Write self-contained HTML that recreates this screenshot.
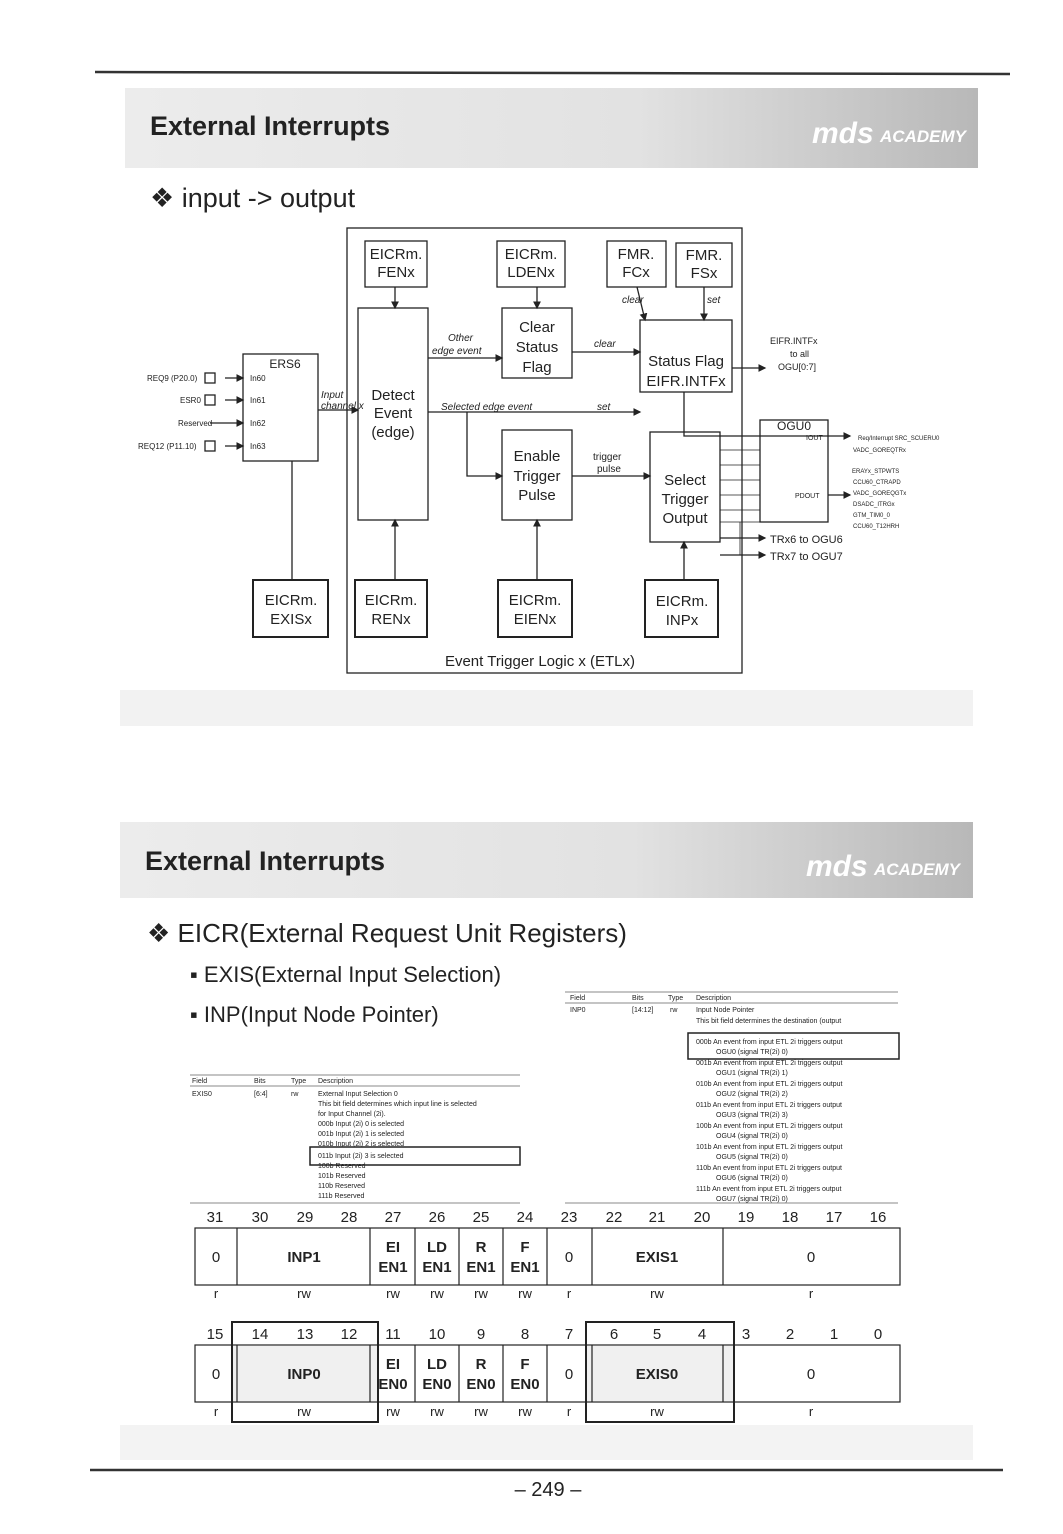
<!DOCTYPE html>
<html><head><meta charset="utf-8"><style>
html,body{margin:0;padding:0;background:#fff}
svg{display:block}
text{font-family:"Liberation Sans",sans-serif;fill:#222}
.w{fill:#fff}
</style></head><body>
<svg width="1063" height="1534" viewBox="0 0 1063 1534" xmlns="http://www.w3.org/2000/svg">
<defs>
<linearGradient id="hg" x1="0" x2="1" y1="0" y2="0">
<stop offset="0" stop-color="#ececec"/><stop offset="0.6" stop-color="#e2e2e2"/><stop offset="1" stop-color="#b8b8b8"/>
</linearGradient>
<marker id="ar" markerWidth="6" markerHeight="6" refX="5" refY="3" orient="auto"><path d="M0,0L6,3L0,6z" fill="#222"/></marker>
</defs>
<line x1="95" y1="72" x2="1010" y2="74" stroke="#333" stroke-width="2.5"/>
<rect x="125" y="88" width="853" height="80" fill="url(#hg)"/>
<text x="150" y="135" font-size="27" font-weight="bold" fill="#1a1a1a">External Interrupts</text>
<text x="812" y="143" font-size="30" font-weight="bold" font-style="italic" class="w">mds</text>
<text x="880" y="142" font-size="17" font-weight="bold" font-style="italic" class="w">ACADEMY</text>
<text x="150" y="207" font-size="27" fill="#1a1a1a">❖ input -&gt; output</text>

<g stroke="#222" fill="none" stroke-width="1.3">
<rect x="347" y="228" width="395" height="445"/>
<rect x="365" y="241" width="62" height="46"/>
<rect x="497" y="241" width="68" height="46"/>
<rect x="607" y="241" width="59" height="46"/>
<rect x="676" y="243" width="56" height="44"/>
<rect x="358" y="308" width="70" height="212"/>
<rect x="502" y="308" width="70" height="70"/>
<rect x="640" y="320" width="92" height="72"/>
<rect x="502" y="430" width="70" height="90"/>
<rect x="650" y="432" width="70" height="110"/>
<rect x="760" y="420" width="68" height="102"/>
<rect x="243" y="354" width="75" height="107"/>
<rect x="253" y="580" width="75" height="57" stroke-width="2"/>
<rect x="355" y="580" width="72" height="57" stroke-width="2"/>
<rect x="498" y="580" width="74" height="57" stroke-width="2"/>
<rect x="645" y="580" width="73" height="57" stroke-width="2"/>
<line x1="395" y1="287" x2="395" y2="308" marker-end="url(#ar)"/>
<line x1="537" y1="287" x2="537" y2="308" marker-end="url(#ar)"/>
<line x1="637" y1="287" x2="645" y2="320" marker-end="url(#ar)"/>
<line x1="704" y1="287" x2="704" y2="320" marker-end="url(#ar)"/>
<line x1="428" y1="358" x2="502" y2="358" marker-end="url(#ar)"/>
<line x1="572" y1="352" x2="640" y2="352" marker-end="url(#ar)"/>
<line x1="428" y1="412" x2="640" y2="412" marker-end="url(#ar)"/>
<polyline points="467,412 467,476 502,476" marker-end="url(#ar)"/>
<line x1="572" y1="476" x2="650" y2="476" marker-end="url(#ar)"/>
<line x1="732" y1="368" x2="765" y2="368" marker-end="url(#ar)"/>
<polyline points="684,392 684,436 850,436" marker-end="url(#ar)"/>
<line x1="828" y1="495" x2="850" y2="495" marker-end="url(#ar)"/>
<line x1="720" y1="538" x2="765" y2="538" marker-end="url(#ar)"/>
<line x1="720" y1="555" x2="765" y2="555" marker-end="url(#ar)"/>
<g stroke-width="0.8"><line x1="720" y1="450" x2="760" y2="450"/><line x1="720" y1="465" x2="760" y2="465"/><line x1="720" y1="480" x2="760" y2="480"/><line x1="720" y1="495" x2="760" y2="495"/><line x1="720" y1="510" x2="760" y2="510"/><line x1="720" y1="522" x2="760" y2="522"/><line x1="740" y1="522" x2="740" y2="555"/></g>
<line x1="395" y1="580" x2="395" y2="520" marker-end="url(#ar)"/>
<line x1="537" y1="580" x2="537" y2="520" marker-end="url(#ar)"/>
<line x1="684" y1="580" x2="684" y2="542" marker-end="url(#ar)"/>
<line x1="292" y1="580" x2="292" y2="461"/>
<line x1="318" y1="410" x2="358" y2="410" marker-end="url(#ar)"/>
<line x1="225" y1="378" x2="243" y2="378" marker-end="url(#ar)"/>
<line x1="225" y1="400" x2="243" y2="400" marker-end="url(#ar)"/>
<line x1="210" y1="423" x2="243" y2="423" marker-end="url(#ar)"/>
<line x1="225" y1="446" x2="243" y2="446" marker-end="url(#ar)"/>
<rect x="205" y="373" width="10" height="10"/><rect x="205" y="395" width="10" height="10"/><rect x="205" y="441" width="10" height="10"/>
</g>
<g font-size="15" text-anchor="middle">
<text x="396" y="259">EICRm.</text><text x="396" y="277">FENx</text>
<text x="531" y="259">EICRm.</text><text x="531" y="277">LDENx</text>
<text x="636" y="259">FMR.</text><text x="636" y="277">FCx</text>
<text x="704" y="260">FMR.</text><text x="704" y="278">FSx</text>
<text x="393" y="400">Detect</text><text x="393" y="418">Event</text><text x="393" y="437">(edge)</text>
<text x="537" y="332">Clear</text><text x="537" y="352">Status</text><text x="537" y="372">Flag</text>
<text x="686" y="366">Status Flag</text><text x="686" y="386">EIFR.INTFx</text>
<text x="537" y="461">Enable</text><text x="537" y="481">Trigger</text><text x="537" y="500">Pulse</text>
<text x="685" y="485">Select</text><text x="685" y="504">Trigger</text><text x="685" y="523">Output</text>
<text x="291" y="605">EICRm.</text><text x="291" y="624">EXISx</text>
<text x="391" y="605">EICRm.</text><text x="391" y="624">RENx</text>
<text x="535" y="605">EICRm.</text><text x="535" y="624">EIENx</text>
<text x="682" y="606">EICRm.</text><text x="682" y="625">INPx</text>
<text x="540" y="666">Event Trigger Logic x (ETLx)</text>
<text x="794" y="430" font-size="12">OGU0</text>
<text x="285" y="368" font-size="12">ERS6</text>
</g>
<g font-size="10" font-style="italic" fill="#444">
<text x="448" y="341">Other</text><text x="432" y="354">edge event</text>
<text x="594" y="347">clear</text><text x="622" y="303">clear</text><text x="707" y="303">set</text>
<text x="441" y="410">Selected  edge event</text><text x="597" y="410">set</text>
<text x="593" y="460" font-style="normal">trigger</text><text x="597" y="472" font-style="normal">pulse</text>
<text x="321" y="398">Input</text><text x="321" y="409">channel x</text>
</g>
<g font-size="8">
<text x="147" y="381">REQ9 (P20.0)</text><text x="180" y="403">ESR0</text><text x="178" y="426">Reserved</text><text x="138" y="449">REQ12 (P11.10)</text>
<text x="250" y="381">In60</text><text x="250" y="403">In61</text><text x="250" y="426">In62</text><text x="250" y="449">In63</text>
<text x="770" y="344" font-size="9">EIFR.INTFx</text><text x="790" y="357" font-size="9">to all</text><text x="778" y="370" font-size="9">OGU[0:7]</text>
<text x="795" y="498" font-size="7">PDOUT</text><text x="806" y="440" font-size="7">IOUT</text>
<text x="858" y="440" font-size="6">Req/Interrupt SRC_SCUERU0</text><text x="853" y="452" font-size="6">VADC_GOREQTRx</text>
<text x="852" y="473" font-size="6">ERAYx_STPWTS</text><text x="853" y="484" font-size="6">CCU60_CTRAPD</text>
<text x="853" y="495" font-size="6">VADC_GOREQGTx</text><text x="853" y="506" font-size="6">DSADC_ITRGx</text>
<text x="853" y="517" font-size="6">GTM_TIM0_0</text><text x="853" y="528" font-size="6">CCU60_T12HRH</text>
<text x="770" y="543" font-size="11">TRx6 to OGU6</text><text x="770" y="560" font-size="11">TRx7 to OGU7</text>
</g>

<rect x="120" y="690" width="853" height="36" fill="#f2f2f2"/>

<rect x="120" y="822" width="853" height="76" fill="url(#hg)"/>
<text x="145" y="870" font-size="27" font-weight="bold" fill="#1a1a1a">External Interrupts</text>
<text x="806" y="876" font-size="30" font-weight="bold" font-style="italic" class="w">mds</text>
<text x="874" y="875" font-size="17" font-weight="bold" font-style="italic" class="w">ACADEMY</text>
<text x="147" y="942" font-size="26" fill="#1a1a1a">❖ EICR(External Request Unit Registers)</text>
<text x="190" y="982" font-size="22">▪  EXIS(External Input Selection)</text>
<text x="190" y="1022" font-size="22">▪  INP(Input Node Pointer)</text>

<g font-size="7" fill="#444">
<line x1="190" y1="1075" x2="520" y2="1075" stroke="#888"/><line x1="190" y1="1086" x2="520" y2="1086" stroke="#888"/>
<line x1="190" y1="1203" x2="520" y2="1203" stroke="#888"/>
<text x="192" y="1083">Field</text><text x="254" y="1083">Bits</text><text x="291" y="1083">Type</text><text x="318" y="1083">Description</text>
<text x="192" y="1096">EXIS0</text><text x="254" y="1096">[6:4]</text><text x="291" y="1096">rw</text>
<text x="318" y="1096">External Input Selection 0</text><text x="318" y="1106">This bit field determines which input line is selected</text>
<text x="318" y="1116">for Input Channel (2i).</text><text x="318" y="1126">000b  Input (2i) 0 is selected</text>
<text x="318" y="1136">001b  Input (2i) 1 is selected</text><text x="318" y="1146">010b  Input (2i) 2 is selected</text>
<text x="318" y="1158">011b  Input (2i) 3 is selected</text><text x="318" y="1168">100b  Reserved</text>
<text x="318" y="1178">101b  Reserved</text><text x="318" y="1188">110b  Reserved</text><text x="318" y="1198">111b  Reserved</text>
<rect x="310" y="1147" width="210" height="18" fill="none" stroke="#222" stroke-width="1.5"/>
</g>
<g font-size="7" fill="#444">
<line x1="565" y1="992" x2="898" y2="992" stroke="#888"/><line x1="565" y1="1003" x2="898" y2="1003" stroke="#888"/>
<line x1="565" y1="1203" x2="898" y2="1203" stroke="#888"/>
<text x="570" y="1000">Field</text><text x="632" y="1000">Bits</text><text x="668" y="1000">Type</text><text x="696" y="1000">Description</text>
<text x="570" y="1012">INP0</text><text x="632" y="1012">[14:12]</text><text x="670" y="1012">rw</text>
<text x="696" y="1012">Input Node Pointer</text><text x="696" y="1023">This bit field determines the destination (output</text>
<text x="696" y="1044">000b An event from input ETL 2i triggers output</text><text x="716" y="1054">OGU0 (signal TR(2i) 0)</text>
<text x="696" y="1065">001b An event from input ETL 2i triggers output</text><text x="716" y="1075">OGU1 (signal TR(2i) 1)</text>
<text x="696" y="1086">010b An event from input ETL 2i triggers output</text><text x="716" y="1096">OGU2 (signal TR(2i) 2)</text>
<text x="696" y="1107">011b An event from input ETL 2i triggers output</text><text x="716" y="1117">OGU3 (signal TR(2i) 3)</text>
<text x="696" y="1128">100b An event from input ETL 2i triggers output</text><text x="716" y="1138">OGU4 (signal TR(2i) 0)</text>
<text x="696" y="1149">101b An event from input ETL 2i triggers output</text><text x="716" y="1159">OGU5 (signal TR(2i) 0)</text>
<text x="696" y="1170">110b An event from input ETL 2i triggers output</text><text x="716" y="1180">OGU6 (signal TR(2i) 0)</text>
<text x="696" y="1191">111b An event from input ETL 2i triggers output</text><text x="716" y="1201">OGU7 (signal TR(2i) 0)</text>
<rect x="688" y="1033" width="211" height="26" fill="none" stroke="#222" stroke-width="1.5"/>
</g>

<g font-size="15" text-anchor="middle" fill="#222">
<text x="215" y="1222">31</text><text x="260" y="1222">30</text><text x="305" y="1222">29</text><text x="349" y="1222">28</text>
<text x="393" y="1222">27</text><text x="437" y="1222">26</text><text x="481" y="1222">25</text><text x="525" y="1222">24</text>
<text x="569" y="1222">23</text><text x="614" y="1222">22</text><text x="657" y="1222">21</text><text x="702" y="1222">20</text>
<text x="746" y="1222">19</text><text x="790" y="1222">18</text><text x="834" y="1222">17</text><text x="878" y="1222">16</text>
<text x="215" y="1339">15</text><text x="260" y="1339">14</text><text x="305" y="1339">13</text><text x="349" y="1339">12</text>
<text x="393" y="1339">11</text><text x="437" y="1339">10</text><text x="481" y="1339">9</text><text x="525" y="1339">8</text>
<text x="569" y="1339">7</text><text x="614" y="1339">6</text><text x="657" y="1339">5</text><text x="702" y="1339">4</text>
<text x="746" y="1339">3</text><text x="790" y="1339">2</text><text x="834" y="1339">1</text><text x="878" y="1339">0</text>
</g>
<rect x="233" y="1346" width="144" height="55" fill="#e6e6e6" opacity="0.6"/>
<rect x="587" y="1346" width="146" height="55" fill="#e6e6e6" opacity="0.6"/>
<g stroke="#222" fill="none" stroke-width="1.2">
<rect x="195" y="1228" width="705" height="57"/>
<line x1="237" y1="1228" x2="237" y2="1285"/><line x1="370" y1="1228" x2="370" y2="1285"/>
<line x1="415" y1="1228" x2="415" y2="1285"/><line x1="459" y1="1228" x2="459" y2="1285"/>
<line x1="503" y1="1228" x2="503" y2="1285"/><line x1="547" y1="1228" x2="547" y2="1285"/>
<line x1="592" y1="1228" x2="592" y2="1285"/><line x1="723" y1="1228" x2="723" y2="1285"/>
<rect x="195" y="1345" width="705" height="57"/>
<line x1="237" y1="1345" x2="237" y2="1402"/><line x1="370" y1="1345" x2="370" y2="1402"/>
<line x1="415" y1="1345" x2="415" y2="1402"/><line x1="459" y1="1345" x2="459" y2="1402"/>
<line x1="503" y1="1345" x2="503" y2="1402"/><line x1="547" y1="1345" x2="547" y2="1402"/>
<line x1="592" y1="1345" x2="592" y2="1402"/><line x1="723" y1="1345" x2="723" y2="1402"/>
<rect x="232" y="1322" width="146" height="100" stroke-width="2"/>
<rect x="586" y="1322" width="148" height="100" stroke-width="2"/>
</g>
<g font-size="15" font-weight="bold" text-anchor="middle" fill="#222">
<text x="216" y="1262" font-weight="normal">0</text><text x="304" y="1262">INP1</text>
<text x="393" y="1252">EI</text><text x="393" y="1272">EN1</text><text x="437" y="1252">LD</text><text x="437" y="1272">EN1</text>
<text x="481" y="1252">R</text><text x="481" y="1272">EN1</text><text x="525" y="1252">F</text><text x="525" y="1272">EN1</text>
<text x="569" y="1262" font-weight="normal">0</text><text x="657" y="1262">EXIS1</text><text x="811" y="1262" font-weight="normal">0</text>
<text x="216" y="1379" font-weight="normal">0</text><text x="304" y="1379">INP0</text>
<text x="393" y="1369">EI</text><text x="393" y="1389">EN0</text><text x="437" y="1369">LD</text><text x="437" y="1389">EN0</text>
<text x="481" y="1369">R</text><text x="481" y="1389">EN0</text><text x="525" y="1369">F</text><text x="525" y="1389">EN0</text>
<text x="569" y="1379" font-weight="normal">0</text><text x="657" y="1379">EXIS0</text><text x="811" y="1379" font-weight="normal">0</text>
</g>
<g font-size="13" text-anchor="middle" fill="#333">
<text x="216" y="1298">r</text><text x="304" y="1298">rw</text><text x="393" y="1298">rw</text><text x="437" y="1298">rw</text><text x="481" y="1298">rw</text><text x="525" y="1298">rw</text><text x="569" y="1298">r</text><text x="657" y="1298">rw</text><text x="811" y="1298">r</text>
<text x="216" y="1416">r</text><text x="304" y="1416">rw</text><text x="393" y="1416">rw</text><text x="437" y="1416">rw</text><text x="481" y="1416">rw</text><text x="525" y="1416">rw</text><text x="569" y="1416">r</text><text x="657" y="1416">rw</text><text x="811" y="1416">r</text>
</g>
<rect x="120" y="1425" width="853" height="35" fill="#f3f3f3"/>
<line x1="90" y1="1470" x2="1003" y2="1470" stroke="#333" stroke-width="2.5"/>
<text x="548" y="1496" font-size="20" text-anchor="middle">– 249 –</text>
</svg>
</body></html>
